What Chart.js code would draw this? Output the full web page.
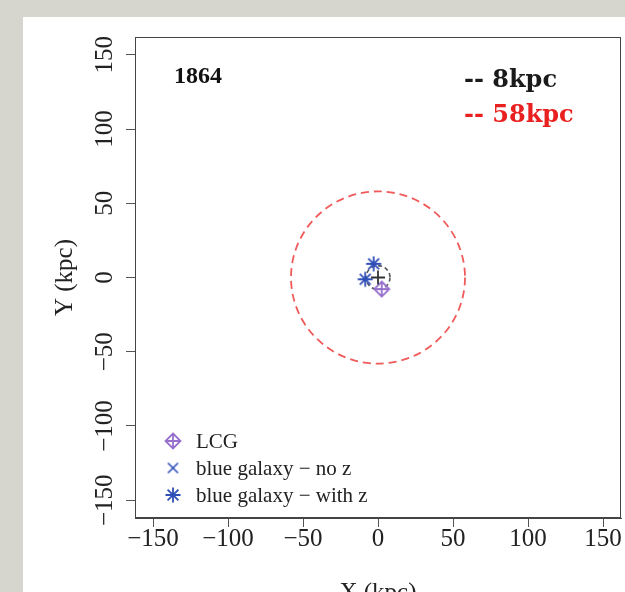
<!DOCTYPE html>
<html>
<head>
<meta charset="utf-8">
<script src="https://cdn.jsdelivr.net/npm/chart.js@4.4.1/dist/chart.umd.min.js"></script>
<style>
  html, body { margin: 0; padding: 0; width: 625px; height: 592px; overflow: hidden; background: #d6d6ce; }
  .panel { position: absolute; left: 23px; top: 17px; right: 0; bottom: 0; background: #fff; }
  #chart { position: absolute; left: 0; top: 0; }
</style>
</head>
<body>
<div class="panel"></div>
<canvas id="chart" width="625" height="610"></canvas>
<script>
// group id and positions (kpc)
const groupId = '1864';
const lcgX = [2.5];
const lcgY = [-7.8];
const noZX = [];
const noZY = [];
const withZX = [-2.9, -8.5];
const withZY = [9.2, -1.2];
const centreX = [0];
const centreY = [0];
const circleRadii = [8, 58];
const circleLabels = ['-- 8kpc', '-- 58kpc'];
const legendLabels = ['LCG', 'blue galaxy \u2212 no z', 'blue galaxy \u2212 with z'];
const axisTicks = [-150, -100, -50, 0, 50, 100, 150];

const circleColors = ['#555555', '#f05a5a'];
const circleDash = [[4, 3], [8, 5]];
const labelColors = ['#1a1a1a', '#e8201f'];
const PURPLE = '#9670cc';
const BLUE = '#2f4fb8';
const SERIF = '"Liberation Serif", "Times New Roman", serif';

const zip = (xs, ys) => xs.map((x, i) => ({ x, y: ys[i] }));
const fmt = (v) => (v < 0 ? '\u2212' + Math.abs(v) : String(v));

function makeMarker(kind, size, color, width) {
  const c = document.createElement('canvas');
  c.width = size;
  c.height = size;
  const g = c.getContext('2d');
  const m = size / 2;
  const r = m - 1.5;
  g.strokeStyle = color;
  g.lineWidth = width;
  g.beginPath();
  if (kind === 'diamondPlus') {
    g.moveTo(m, m - r); g.lineTo(m + r, m); g.lineTo(m, m + r); g.lineTo(m - r, m); g.closePath();
    g.moveTo(m, m - r); g.lineTo(m, m + r);
    g.moveTo(m - r, m); g.lineTo(m + r, m);
  } else if (kind === 'times') {
    const d = r * 0.72;
    g.moveTo(m - d, m - d); g.lineTo(m + d, m + d);
    g.moveTo(m - d, m + d); g.lineTo(m + d, m - d);
  } else if (kind === 'asterisk') {
    const d = r * 0.72;
    g.moveTo(m, m - r); g.lineTo(m, m + r);
    g.moveTo(m - r, m); g.lineTo(m + r, m);
    g.moveTo(m - d, m - d); g.lineTo(m + d, m + d);
    g.moveTo(m - d, m + d); g.lineTo(m + d, m - d);
  }
  g.stroke();
  return c;
}

const lcgMarker = makeMarker('diamondPlus', 18, PURPLE, 1.8);
const noZMarker = makeMarker('times', 17, BLUE, 1.6);
const withZMarker = makeMarker('asterisk', 18, BLUE, 1.8);
const legendMarkers = [lcgMarker, noZMarker, withZMarker];

// plot box in canvas pixels, as in the source figure
const AREA = { left: 135, top: 37, right: 621, bottom: 518 };

const overlay = {
  id: 'overlay',
  afterLayout(chart) {
    // pin the plotting region so tick-label overflow does not shrink it
    Object.assign(chart.chartArea, AREA, { width: AREA.right - AREA.left, height: AREA.bottom - AREA.top });
    const { x, y } = chart.scales;
    x.left = AREA.left; x.right = AREA.right; x.width = AREA.right - AREA.left;
    x.top = AREA.bottom; x.bottom = chart.height;
    y.top = AREA.top; y.bottom = AREA.bottom; y.height = AREA.bottom - AREA.top;
    y.left = 0; y.right = AREA.left;
    x.configure();
    y.configure();
  },
  beforeDatasetsDraw(chart) {
    const { ctx, scales: { x, y } } = chart;
    const cx = x.getPixelForValue(0);
    const cy = y.getPixelForValue(0);
    circleRadii.forEach((r, i) => {
      ctx.save();
      ctx.strokeStyle = circleColors[i];
      ctx.lineWidth = i === 0 ? 1.6 : 1.8;
      ctx.setLineDash(circleDash[i]);
      ctx.beginPath();
      ctx.ellipse(cx, cy, x.getPixelForValue(r) - cx, cy - y.getPixelForValue(r), 0, 0, Math.PI * 2);
      ctx.stroke();
      ctx.restore();
    });
  },
  afterDraw(chart) {
    const { ctx, chartArea: a, scales: { y } } = chart;
    ctx.save();
    // full box like R's box()
    ctx.strokeStyle = '#444';
    ctx.lineWidth = 1;
    ctx.strokeRect(a.left + 0.5, a.top + 0.5, a.right - a.left - 1, a.bottom - a.top - 1);

    // y tick labels, rotated as in R (las = 0)
    ctx.fillStyle = '#222';
    ctx.font = '25px ' + SERIF;
    ctx.textAlign = 'center';
    ctx.textBaseline = 'alphabetic';
    y.ticks.forEach((t) => {
      ctx.save();
      ctx.translate(112, y.getPixelForValue(t.value));
      ctx.rotate(-Math.PI / 2);
      ctx.fillText(fmt(t.value), 0, 0);
      ctx.restore();
    });

    // legend in the bottom-left corner
    ctx.textAlign = 'left';
    ctx.font = '21px ' + SERIF;
    legendLabels.forEach((label, i) => {
      const base = a.bottom - 70 + i * 27;
      const mk = legendMarkers[i];
      ctx.drawImage(mk, a.left + 38 - mk.width / 2, base - 7 - mk.height / 2);
      ctx.fillStyle = '#222';
      ctx.fillText(label, a.left + 61, base);
    });

    // group id
    ctx.font = 'bold 24px ' + SERIF;
    ctx.fillStyle = '#111';
    ctx.fillText(groupId, 174, 83);

    // circle size notes
    ctx.font = 'bold 24px "DejaVu Serif", serif';
    circleLabels.forEach((label, i) => {
      ctx.fillStyle = labelColors[i];
      ctx.fillText(label, 464, 87 + i * 35);
    });
    ctx.restore();
  },
};

const axisCommon = {
  type: 'linear',
  min: -162,
  max: 162,
  afterBuildTicks: (s) => { s.ticks = axisTicks.map((v) => ({ value: v })); },
  grid: { drawOnChartArea: false, drawTicks: true, tickLength: 9, color: '#555', lineWidth: 1 },
  border: { display: true, color: '#444', width: 1 },
};

new Chart(document.getElementById('chart'), {
  type: 'scatter',
  data: {
    datasets: [
      {
        label: 'centre',
        data: zip(centreX, centreY),
        pointStyle: 'cross',
        pointRadius: 7,
        borderColor: '#333',
        borderWidth: 1.8,
      },
      {
        label: legendLabels[1],
        data: zip(noZX, noZY),
        pointStyle: noZMarker,
        pointRadius: 8,
      },
      {
        label: legendLabels[2],
        data: zip(withZX, withZY),
        pointStyle: withZMarker,
        pointRadius: 8,
      },
      {
        label: legendLabels[0],
        data: zip(lcgX, lcgY),
        pointStyle: lcgMarker,
        pointRadius: 8,
      },
    ],
  },
  options: {
    responsive: false,
    animation: false,
    layout: { padding: { left: 0, right: 4, top: 37, bottom: 0 } },
    plugins: {
      legend: { display: false },
      tooltip: { enabled: false },
    },
    scales: {
      x: {
        ...axisCommon,
        position: 'bottom',
        afterFit: (s) => { s.height = 92; },
        ticks: {
          color: '#222',
          font: { family: SERIF, size: 25, lineHeight: 1 },
          padding: 0,
          maxRotation: 0,
          callback: (v) => fmt(v),
        },
        title: {
          display: true,
          text: 'X (kpc)',
          color: '#222',
          font: { family: SERIF, size: 25 },
          padding: { top: 0, bottom: 2 },
        },
      },
      y: {
        ...axisCommon,
        position: 'left',
        afterFit: (s) => { s.width = 135; },
        ticks: { display: false },
        title: {
          display: true,
          text: 'Y (kpc)',
          color: '#222',
          font: { family: SERIF, size: 25 },
          padding: { top: 50, bottom: 0 },
        },
      },
    },
  },
  plugins: [overlay],
});
</script>
</body>
</html>
